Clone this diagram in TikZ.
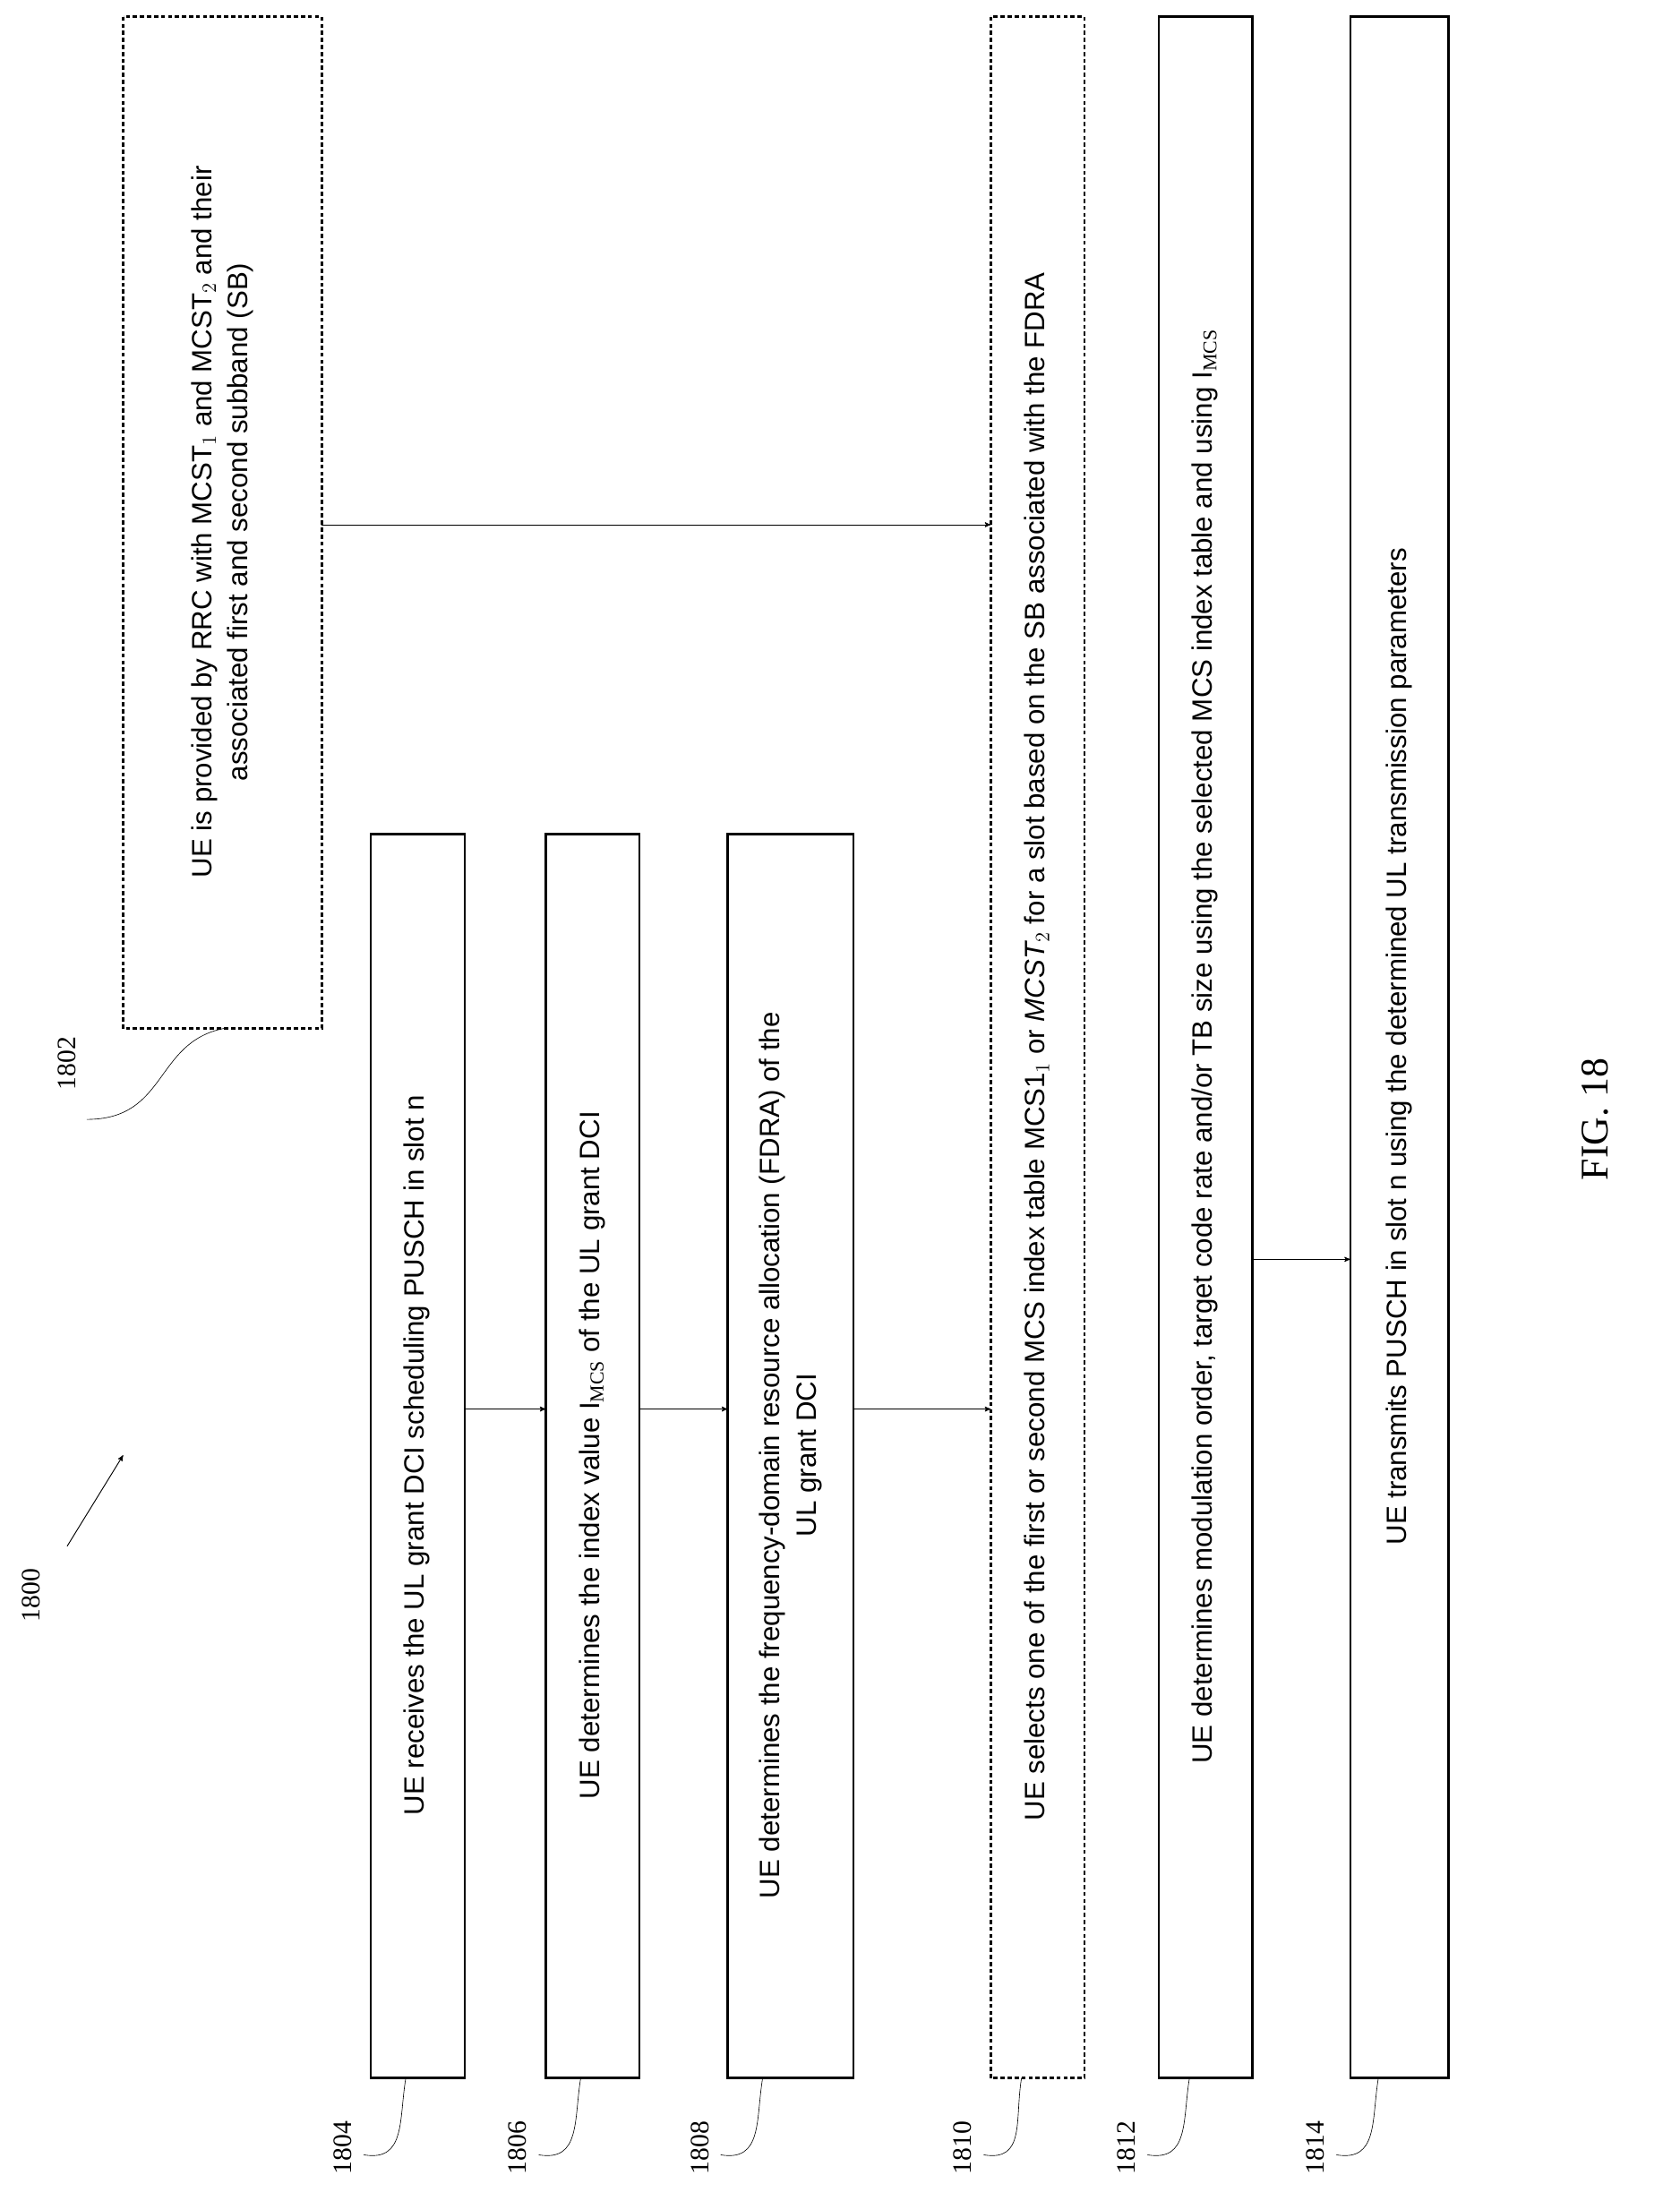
\documentclass[tikz,border=0pt]{standalone}
\usepackage{fontspec}
\setmainfont{Liberation Serif}
\newfontfamily\boxfont{Liberation Sans}
\usetikzlibrary{arrows,positioning}
\begin{document}
\begin{tikzpicture}[x=1pt,y=-1pt,>=stealth',semithick]
  \tikzset{stepbox/.style={draw,line width=1.6pt},
    opt/.style={draw,line width=1.6pt,dashed,dash pattern=on 3pt off 2pt},
    txt/.style={rotate=90,font=\boxfont\fontsize{20}{26}\selectfont,align=center},
    ref/.style={rotate=90,font=\fontsize{19}{22}\selectfont},
    lead/.style={thin,-}}
  \useasboundingbox (0,0) rectangle (1200,1573);

  % boxes
  \draw[opt] (88,12) rectangle (230,735);
  \node[txt] (t1802) at (159,373) {UE is provided by RRC with MCST$_{1}$ and MCST$_{2}$ and their\\ associated first and second subband (SB)};
  \draw[stepbox] (265,596) rectangle (332,1485);
  \node[txt] (t1804) at (298,1040) {UE receives the UL grant DCI scheduling PUSCH in slot n};
  \draw[stepbox] (390,596) rectangle (457,1485);
  \node[txt] (t1806) at (423,1040) {UE determines the index value I$_{\mathrm{MCS}}$ of the UL grant DCI};
  \draw[stepbox] (520,596) rectangle (610,1485);
  \node[txt] (t1808) at (565,1040) {UE determines the frequency-domain resource allocation (FDRA) of the\\ UL grant DCI};
  \draw[opt] (708,12) rectangle (775,1485);
  \node[txt] (t1810) at (741,748) {UE selects one of the first or second MCS index table MCS1$_{1}$ or \textit{MCST$_{2}$} for a slot based on the SB associated with the FDRA};
  \draw[stepbox] (828,12) rectangle (895,1485);
  \node[txt] (t1812) at (861,748) {UE determines modulation order, target code rate and/or TB size using the selected MCS index table and using I$_{\mathrm{MCS}}$};
  \draw[stepbox] (965,12) rectangle (1035,1485);
  \node[txt] (t1814) at (1000,748) {UE transmits PUSCH in slot n using the determined UL transmission parameters};

  % connectors
  \coordinate (a1) at (230,375); \coordinate (b1) at (708,375);
  \draw[->] (a1) -- (b1);
  \coordinate (a2) at (332,1007); \coordinate (b2) at (390,1007);
  \draw[->] (a2) -- (b2);
  \coordinate (a3) at (457,1007); \coordinate (b3) at (520,1007);
  \draw[->] (a3) -- (b3);
  \coordinate (a4) at (610,1007); \coordinate (b4) at (708,1007);
  \draw[->] (a4) -- (b4);
  \coordinate (a5) at (895,900); \coordinate (b5) at (965,900);
  \draw[->] (a5) -- (b5);

  % reference numerals
  \node[ref] (n1800) at (22,1140) {1800};
  \draw[->] (48,1105) -- (88,1040);
  \node[ref] (n1802) at (48,760) {1802};
  \draw[lead] (62,800) .. controls (120,800) and (110,745) .. (160,735);
  \foreach \n/\x/\bx in {1804/245/290,1806/370/415,1808/500/545,1810/688/730,1812/805/850,1814/940/985}{
    \node[ref] (n\n) at (\x,1535) {\n};
    \draw[lead] (\x+15,1540) .. controls (\x+45,1545) and (\bx-5,1515) .. (\bx,1485);
  }
  \node[rotate=90,font=\fontsize{28}{30}\selectfont] (fig) at (1140,800) {FIG. 18};
\end{tikzpicture}
\end{document}
